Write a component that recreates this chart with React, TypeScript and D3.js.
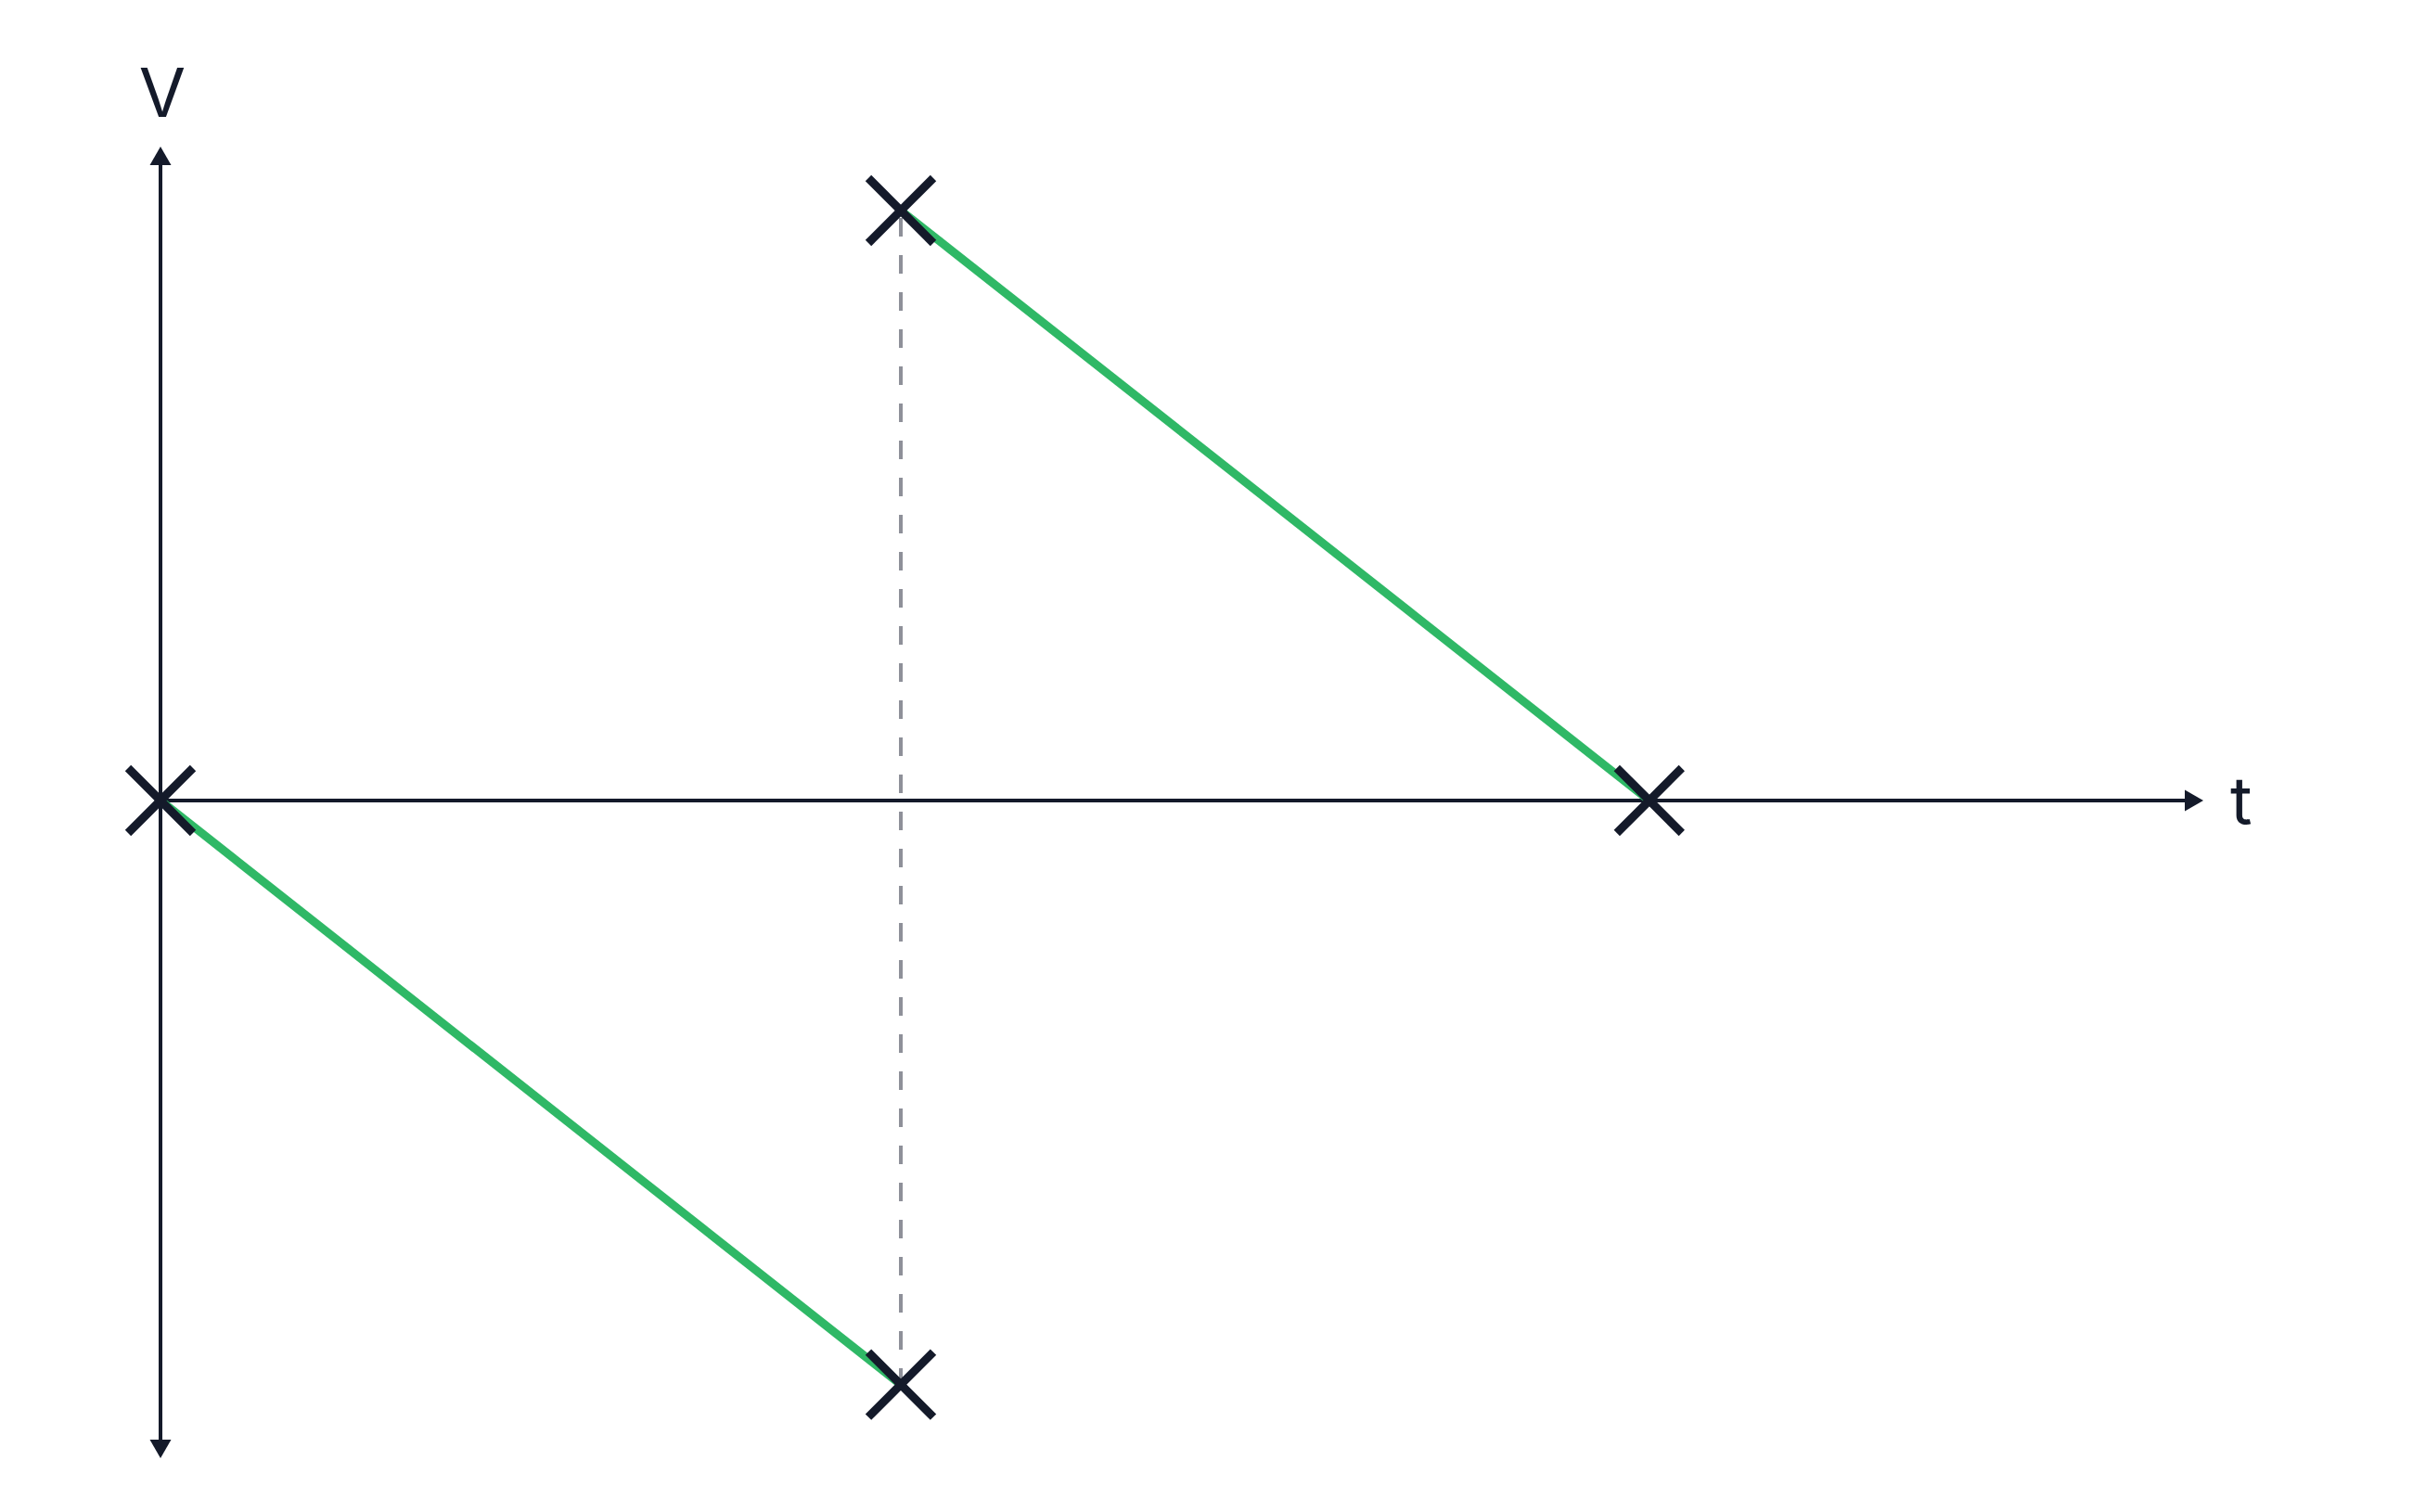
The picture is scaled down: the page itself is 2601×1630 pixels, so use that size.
import React from "react";
import * as d3 from "d3";

const W = 2601;
const H = 1630;

// data
const tValues = [0, 1, 1, 2.011];
const vValues = [0, -0.99, 1, 0];
const segments = [
  [0, 1],
  [2, 3],
];
const markerIdx = [0, 1, 2, 3];
const dashFrom = { t: 1, v: 1 };
const dashTo = { t: 1, v: -0.99 };
const axisLabels = { x: "t", y: "V" };

const x = d3.scaleLinear().domain([0, 1]).range([173, 971]);
const y = d3.scaleLinear().domain([0, 1]).range([863, 227]);

const DARK = "#141a2a";
const GREEN = "#2fb866";
const GRAY = "#8e9099";

export default function App() {
  const x0 = x(0);
  const y0 = y(0);
  const yTop = 158;
  const yBot = 1572;
  const xEnd = 2375;
  const ah = 20;
  const aw = 11.5;
  const line = d3
    .line<number>()
    .x((i) => x(tValues[i]))
    .y((i) => y(vValues[i]));
  const m = 35;
  return (
    <svg
      width={W}
      height={H}
      style={{ position: "absolute", left: 0, top: 0, background: "#fff" }}
    >
      <rect width={W} height={H} fill="#fff" />
      {/* axes */}
      <line x1={x0} x2={x0} y1={yTop + ah} y2={yBot - ah} stroke={DARK} strokeWidth={4} />
      <line x1={x0} x2={xEnd - ah} y1={y0} y2={y0} stroke={DARK} strokeWidth={4} />
      <path d={`M${x0},${yTop} L${x0 - aw},${yTop + ah} L${x0 + aw},${yTop + ah} Z`} fill={DARK} />
      <path d={`M${x0},${yBot} L${x0 - aw},${yBot - ah} L${x0 + aw},${yBot - ah} Z`} fill={DARK} />
      <path d={`M${xEnd},${y0} L${xEnd - ah},${y0 - aw} L${xEnd - ah},${y0 + aw} Z`} fill={DARK} />
      <text
        x={x0 + 2}
        y={126}
        textAnchor="middle"
        fontFamily="Inter"
        fontSize={73}
        fill={DARK}
      >
        {axisLabels.y}
      </text>
      <text x={2404} y={889} fontFamily="Inter" fontSize={72} fill={DARK}>
        {axisLabels.x}
      </text>
      {/* dashed guide */}
      <line
        x1={x(dashFrom.t)}
        x2={x(dashTo.t)}
        y1={y(dashFrom.v)}
        y2={y(dashTo.v)}
        stroke={GRAY}
        strokeWidth={4}
        strokeDasharray="20 20"
        strokeDashoffset={-8}
      />
      {/* green segments */}
      {segments.map((s, i) => (
        <path key={i} d={line(s) ?? ""} fill="none" stroke={GREEN} strokeWidth={9} />
      ))}
      {/* markers */}
      {markerIdx.map((i) => {
        const cx = x(tValues[i]);
        const cy = y(vValues[i]);
        return (
          <g key={i} stroke={DARK} strokeWidth={9}>
            <line x1={cx - m} y1={cy - m} x2={cx + m} y2={cy + m} />
            <line x1={cx - m} y1={cy + m} x2={cx + m} y2={cy - m} />
          </g>
        );
      })}
    </svg>
  );
}
